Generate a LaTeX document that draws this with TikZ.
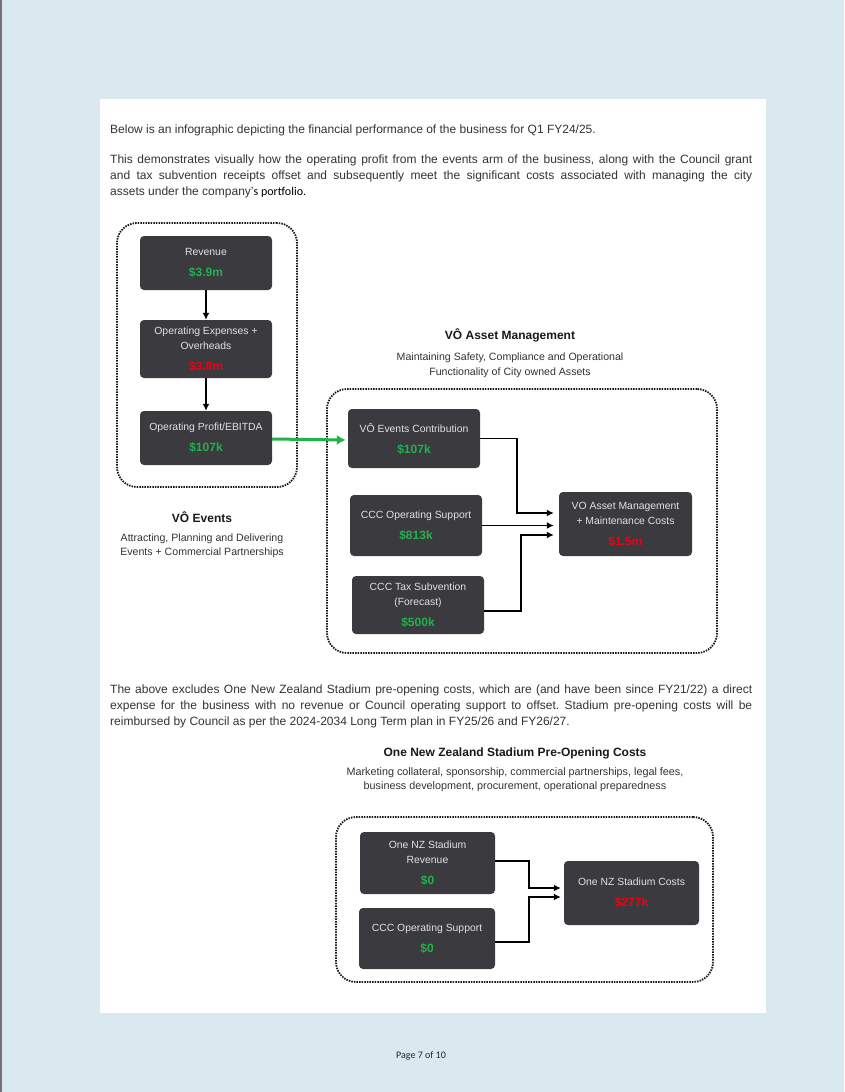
\documentclass[tikz,border=0pt]{standalone}
\usepackage{fontspec}
\setmainfont{Liberation Sans}
\newfontfamily\calib{Carlito}
\usetikzlibrary{arrows.meta,calc}
\definecolor{bgblue}{HTML}{DAE8EF}
\definecolor{boxfill}{HTML}{3A3A3F}
\definecolor{boxtext}{HTML}{E2E2E2}
\definecolor{valgreen}{HTML}{22B24C}
\definecolor{valred}{HTML}{F00010}
\definecolor{txt}{HTML}{333333}
\newcommand{\valg}[1]{{\bfseries\fontsize{12}{13}\selectfont\color{valgreen}#1}}
\newcommand{\valr}[1]{{\bfseries\fontsize{12}{13}\selectfont\color{valred}#1}}
\frenchspacing
\begin{document}
\begin{tikzpicture}[x=1pt,y=-1pt,
  darkbox/.style={fill=boxfill, rounded corners=4pt, text=boxtext, align=center,
    inner sep=0pt, font=\fontsize{10.4}{15}\selectfont},
  group/.style={draw=black!90, line width=1.8pt, dash pattern=on 1.5pt off 1.1pt,
    rounded corners=20pt, inner sep=0pt},
  conn/.style={draw=black, line width=1.9pt, -{Latex[length=7pt,width=7pt]}},
  gconn/.style={draw=valgreen, line width=3pt, -{Latex[length=9pt,width=10pt]}},
  para/.style={text=txt, font=\fontsize{12}{16}\selectfont, inner sep=0pt},
  head/.style={text=black!90, font=\bfseries\fontsize{12}{14}\selectfont, inner sep=0pt},
  sub/.style={text=txt, font=\fontsize{10.6}{15}\selectfont, align=center, inner sep=0pt}
]
\useasboundingbox (0,0) rectangle (844,1092);
\fill[bgblue] (0,0) rectangle (844,1092);
\fill[black!55] (0,0) rectangle (2,1092);
\fill[white] (100,99) rectangle (766,1013);

% intro text
\node[para, anchor=base west] (p1) at (110,133) {Below is an infographic depicting the financial performance of the business for Q1 FY24/25.};
\node[para, anchor=north west, text width=642pt, align=justify] (p2) at (110,154.5)
{This demonstrates visually how the operating profit from the events arm of the business, along with the Council grant\linebreak
and tax subvention receipts offset and subsequently meet the significant costs associated with managing the city\linebreak
assets under the company’{\calib\color{black}s portfolio.}};

% groups
\node[group, minimum width=180pt, minimum height=264pt] (g1) at (207,355) {};
\node[group, minimum width=390pt, minimum height=264pt] (g2) at (522,521) {};
\node[group, minimum width=377pt, minimum height=165pt] (g3) at (524.5,899.5) {};

% VO Events boxes
\node[darkbox, minimum width=132pt, minimum height=54pt] (rev) at (206,263)
  {Revenue\\[6pt]\valg{\$3.9m}};
\node[darkbox, minimum width=132pt, minimum height=58pt] (opex) at (206,349)
  {Operating Expenses +\\Overheads\\[6pt]\valr{\$3.8m}};
\node[darkbox, minimum width=132pt, minimum height=54pt] (prof) at (206,438)
  {Operating Profit/EBITDA\\[6pt]\valg{\$107k}};

% VO Asset Management boxes
\node[darkbox, minimum width=132pt, minimum height=59pt] (evc) at (414,438.5)
  {VÔ Events Contribution\\[6pt]\valg{\$107k}};
\node[darkbox, minimum width=132pt, minimum height=61pt] (ccc) at (416,525.5)
  {CCC Operating Support\\[6pt]\valg{\$813k}};
\node[darkbox, minimum width=132pt, minimum height=58pt] (tax) at (418,605)
  {CCC Tax Subvention\\(Forecast)\\[6pt]\valg{\$500k}};
\node[darkbox, minimum width=133pt, minimum height=64pt] (vo) at (625.5,524)
  {VO Asset Management\\+ Maintenance Costs\\[6pt]\valr{\$1.5m}};

% Stadium boxes
\node[darkbox, minimum width=135pt, minimum height=62pt] (srev) at (427.5,863)
  {One NZ Stadium\\Revenue\\[6pt]\valg{\$0}};
\node[darkbox, minimum width=136pt, minimum height=61pt] (sops) at (427,938.5)
  {CCC Operating Support\\[6pt]\valg{\$0}};
\node[darkbox, minimum width=135pt, minimum height=64pt] (scost) at (631.5,893)
  {One NZ Stadium Costs\\[6pt]\valr{\$277k}};

% headings
\node[head] (h1) at (510,335) {VÔ Asset Management};
\node[sub] (s1) at (510,365) {Maintaining Safety, Compliance and Operational\\Functionality of City owned Assets};
\node[head] (h2) at (202,517) {VÔ Events};
\node[sub, font=\fontsize{10.6}{14}\selectfont] (s2) at (202,546) {Attracting, Planning and Delivering\\Events + Commercial Partnerships};

% middle paragraph
\node[para, anchor=north west, text width=642pt, align=justify] (p3) at (110,684.5)
{The above excludes One New Zealand Stadium pre-opening costs, which are (and have been since FY21/22) a direct\linebreak
expense for the business with no revenue or Council operating support to offset. Stadium pre-opening costs will be\linebreak
reimbursed by Council as per the 2024-2034 Long Term plan in FY25/26 and FY26/27.};

\node[head] (h3) at (515,753) {One New Zealand Stadium Pre-Opening Costs};
\node[sub, font=\fontsize{10.8}{14}\selectfont] (s3) at (515,780) {Marketing collateral, sponsorship, commercial partnerships, legal fees,\\business development, procurement, operational preparedness};

% page number
\node[font=\calib\fontsize{10}{12}\selectfont, text=black!85, inner sep=0pt] (pg) at (421,1056) {Page 7 of 10};

% connectors
\draw[conn] (rev.south) -- (opex.north);
\draw[conn] (opex.south) -- (prof.north);
\draw[gconn] ([yshift=-1pt]prof.east) -- ([yshift=-1.5pt,xshift=-2pt]evc.west);

\coordinate (j1) at (517,513);
\coordinate (j2) at (521,535);
\draw[conn, shorten >=5pt] (evc.east) -| (j1) -- (j1 -| vo.west);
\draw[conn, shorten >=5pt] (ccc.east) -- (ccc.east -| vo.west);
\draw[conn, shorten >=5pt] ([yshift=-6pt]tax.east) -| (j2) -- (j2 -| vo.west);

\coordinate (j3) at (529,888);
\coordinate (j4) at (529,897);
\draw[conn, shorten >=3pt] ([yshift=2pt]srev.east) -| (j3) -- (j3 -| scost.west);
\draw[conn, shorten >=3pt] ([yshift=-3.5pt]sops.east) -| (j4) -- (j4 -| scost.west);
\end{tikzpicture}
\end{document}
